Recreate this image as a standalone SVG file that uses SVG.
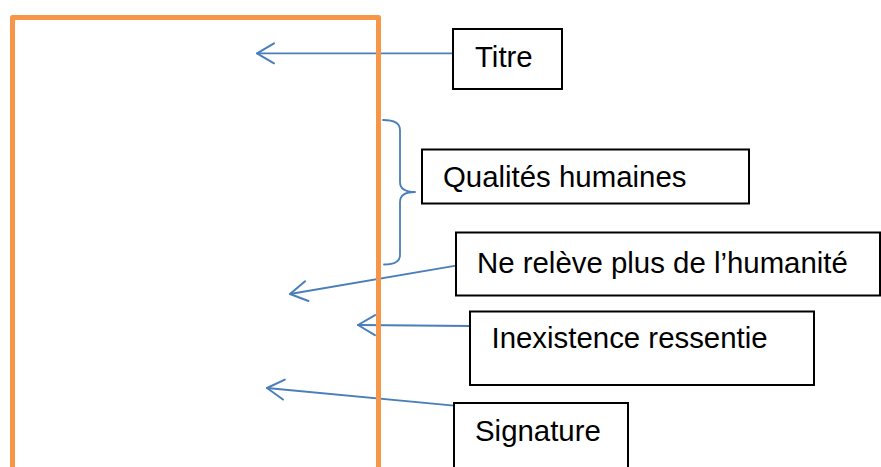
<svg xmlns="http://www.w3.org/2000/svg" width="881" height="467" viewBox="0 0 881 467">
<style>
.box{fill:#fff;stroke:#000;stroke-width:2}
.lbl{font-family:"Liberation Sans",Arial,sans-serif;font-size:29.4px;fill:#000}
.conn{fill:none;stroke:#4A7EBB;stroke-width:1.8;stroke-linecap:round;stroke-linejoin:round}
.frame{fill:none;stroke:#F79646;stroke-width:5;stroke-linejoin:round}
</style>
<defs>
<marker id="open" markerUnits="userSpaceOnUse" markerWidth="40" markerHeight="40" refX="0" refY="0" orient="auto" viewBox="-20 -20 40 40" overflow="visible">
<path d="M-17,-10 L0,0 L-17,10" fill="none" stroke="#4A7EBB" stroke-width="2" stroke-linecap="round" stroke-linejoin="round"/>
</marker>
</defs>
<rect width="881" height="467" fill="#fff"/>
<g id="connectors">
<line class="conn" x1="453" y1="53.3" x2="257" y2="53.3" marker-end="url(#open)"/>
<line class="conn" x1="456" y1="265.7" x2="290" y2="294" marker-end="url(#open)"/>
<line class="conn" x1="470" y1="326" x2="358" y2="325" marker-end="url(#open)"/>
<line class="conn" x1="454" y1="405.7" x2="267" y2="388" marker-end="url(#open)"/>
<path class="conn" d="M383,120 Q400,120 400,130 L400,182 Q400,192 415,192 Q400,192 400,202 L400,255 Q400,264.5 384,264.5"/>
</g>
<g id="frame">
<rect class="frame" x="12.5" y="17.5" width="366" height="480"/>
</g>
<g id="titre">
<rect class="box" x="453" y="29" width="109" height="60"/>
<text class="lbl" x="475" y="66.7">Titre</text>
</g>
<g id="qualites">
<rect class="box" x="422" y="149.5" width="327" height="54"/>
<text class="lbl" x="443" y="186.7">Qualités humaines</text>
</g>
<g id="ne-releve">
<rect class="box" x="456" y="232.5" width="424" height="63"/>
<text class="lbl" x="477" y="272.7">Ne relève plus de l’humanité</text>
</g>
<g id="inexistence">
<rect class="box" x="470" y="311.5" width="344" height="73.5"/>
<text class="lbl" x="491.5" y="348">Inexistence ressentie</text>
</g>
<g id="signature">
<rect class="box" x="454" y="403" width="174" height="80"/>
<text class="lbl" x="475" y="441">Signature</text>
</g>
</svg>
